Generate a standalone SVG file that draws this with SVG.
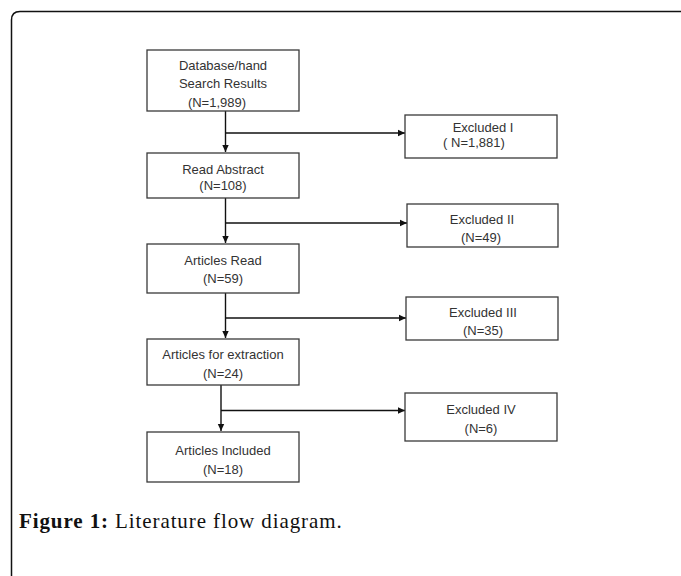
<svg xmlns="http://www.w3.org/2000/svg" width="681" height="576" viewBox="0 0 681 576">
<defs>
<style>
.box{fill:#fff;stroke:#3a3a3a;stroke-width:1.3}
.t{font-family:"Liberation Sans","Open Sans",Arial,sans-serif;font-size:13px;fill:#333;text-anchor:middle;dominant-baseline:central}
.c{stroke:#111;stroke-width:1.4;fill:none}
.cap{font-family:"Liberation Serif","Times New Roman",serif;font-size:21px;fill:#111;letter-spacing:0.9px}
</style>
<marker id="ah" markerWidth="8" markerHeight="8" refX="7" refY="4" orient="auto" markerUnits="userSpaceOnUse">
<path d="M0,0.8 L7,4 L0,7.2 Z" fill="#111"/>
</marker>
</defs>
<rect width="681" height="576" fill="#fff"/>
<path d="M11.5,576 V20 Q11.5,11.5 20,11.5 H681" fill="none" stroke="#111" stroke-width="1.5"/>

<g id="connectors">
<path class="c" d="M225.5,111 V152" marker-end="url(#ah)"/>
<path class="c" d="M225.5,133 H405" marker-end="url(#ah)"/>
<path class="c" d="M225.5,198 V243" marker-end="url(#ah)"/>
<path class="c" d="M225.5,223 H407" marker-end="url(#ah)"/>
<path class="c" d="M225.5,293 V338" marker-end="url(#ah)"/>
<path class="c" d="M225.5,318 H406" marker-end="url(#ah)"/>
<path class="c" d="M221,385 V431" marker-end="url(#ah)"/>
<path class="c" d="M221,410.5 H405" marker-end="url(#ah)"/>
</g>

<g id="search">
<rect class="box" x="147" y="50" width="152" height="61"/>
<text class="t" x="223" y="65">Database/hand</text>
<text class="t" x="223" y="83">Search Results</text>
<text class="t" x="217" y="102">(N=1,989)</text>
</g>
<g id="excluded1">
<rect class="box" x="405" y="115" width="152" height="43"/>
<text class="t" x="483" y="127">Excluded I</text>
<text class="t" x="474" y="142">( N=1,881)</text>
</g>
<g id="abstract">
<rect class="box" x="147" y="153" width="152" height="45"/>
<text class="t" x="223" y="169">Read Abstract</text>
<text class="t" x="223" y="185">(N=108)</text>
</g>
<g id="excluded2">
<rect class="box" x="407" y="204" width="151" height="43"/>
<text class="t" x="482" y="219">Excluded II</text>
<text class="t" x="481" y="237">(N=49)</text>
</g>
<g id="read">
<rect class="box" x="147" y="244" width="152" height="49"/>
<text class="t" x="223" y="260">Articles Read</text>
<text class="t" x="223" y="278">(N=59)</text>
</g>
<g id="excluded3">
<rect class="box" x="406" y="297" width="152" height="43"/>
<text class="t" x="483" y="312">Excluded III</text>
<text class="t" x="483" y="330">(N=35)</text>
</g>
<g id="extraction">
<rect class="box" x="147" y="339" width="152" height="46"/>
<text class="t" x="223" y="354">Articles for extraction</text>
<text class="t" x="223" y="373">(N=24)</text>
</g>
<g id="excluded4">
<rect class="box" x="405" y="393" width="152" height="48"/>
<text class="t" x="481" y="409">Excluded IV</text>
<text class="t" x="481" y="428">(N=6)</text>
</g>
<g id="included">
<rect class="box" x="147" y="432" width="152" height="50"/>
<text class="t" x="223" y="450">Articles Included</text>
<text class="t" x="223" y="469">(N=18)</text>
</g>

<text class="cap" x="19" y="528"><tspan font-weight="bold">Figure 1:</tspan> Literature flow diagram.</text>
</svg>
